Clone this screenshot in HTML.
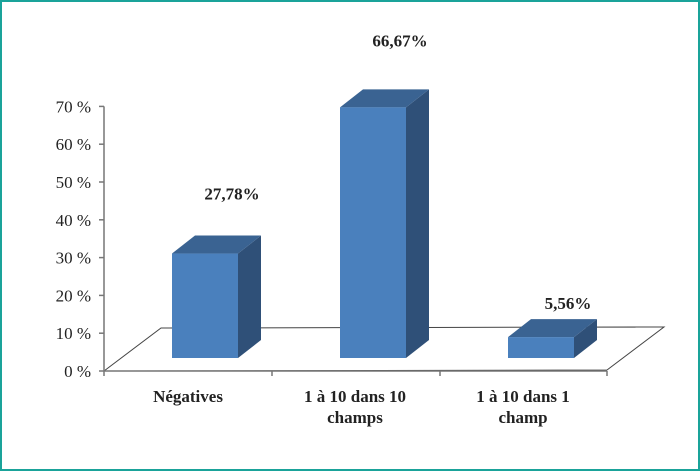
<!DOCTYPE html>
<html><head><meta charset="utf-8"><style>
html,body{margin:0;padding:0;background:#fff}
svg{display:block}
text{font-family:"Liberation Serif",serif}
</style></head><body>
<svg width="700" height="471" viewBox="0 0 700 471">
<rect x="1" y="1" width="698" height="469" fill="#fff" stroke="#1aa39a" stroke-width="2"/>
<g id="floor"></g>
<g id="yaxis"></g>
<g id="bars"></g>
<g id="xlabels"></g>
</svg>
<script>
const categories = [["Négatives"], ["1 à 10 dans 10", "champs"], ["1 à 10 dans 1", "champ"]];
const values = [27.78, 66.67, 5.56];
const valueLabels = ["27,78%", "66,67%", "5,56%"];
const yTicks = [0, 10, 20, 30, 40, 50, 60, 70];

const NS = "http://www.w3.org/2000/svg";
function mk(tag, attrs, parent) {
  const e = document.createElementNS(NS, tag);
  for (const k in attrs) e.setAttribute(k, attrs[k]);
  parent.appendChild(e);
  return e;
}
const axisX = 104, y0 = 371, pxPerPct = 37.8 / 10;
const yScale = v => y0 - v * pxPerPct;
const baseY = 358, barPx = 3.76;
const barH = v => v * barPx;
const catX = i => 172 + i * 168;
const barW = 66, dx = 23, dy = 18;

// floor
const floor = document.getElementById('floor');
const fp = mk('polygon', {points: `${axisX},${y0} 161,328 664,327 607,370`, fill: '#fff', stroke: '#444', 'stroke-width': 1}, floor);


const bl = mk('line', {x1: axisX, y1: y0, x2: 607, y2: y0, stroke: '#777', 'stroke-width': 1.5}, floor);


[axisX, 272, 440, 607].forEach(x => {
  const t = mk('line', {x1: x, y1: y0, x2: x, y2: y0 + 5, stroke: '#777', 'stroke-width': 1.5}, floor);
  
  
});

// y axis
const ya = document.getElementById('yaxis');
const al = mk('line', {x1: axisX, y1: yScale(70), x2: axisX, y2: y0, stroke: '#777', 'stroke-width': 1.5}, ya);


yTicks.forEach(v => {
  const y = yScale(v);
  const t = mk('line', {x1: axisX - 5, y1: y, x2: axisX, y2: y, stroke: '#777', 'stroke-width': 1.5}, ya);
  
  
  const tx = mk('text', {x: 91, y: y + 6, 'text-anchor': 'end', 'font-size': 17, fill: '#222'}, ya);
  tx.textContent = v + ' %';
  
  
});

// bars
const bars = document.getElementById('bars');
values.forEach((v, i) => {
  const x = catX(i), h = barH(v), top = baseY - h;
  const g = mk('g', {}, bars);
  
  
  mk('polygon', {points: `${x + barW},${top} ${x + barW + dx},${top - dy} ${x + barW + dx},${baseY - dy} ${x + barW},${baseY}`, fill: '#2f5078'}, g);
  mk('polygon', {points: `${x},${top} ${x + dx},${top - dy} ${x + barW + dx},${top - dy} ${x + barW},${top}`, fill: '#3a6392'}, g);
  mk('rect', {x: x, y: top, width: barW, height: h, fill: '#4a80bd'}, g);
  const lbl = mk('text', {x: x + barW / 2 + 27, y: [200, 57, 312][i] !== undefined ? top - dy - [36, 43, 10][i] : 0, 'text-anchor': 'middle', 'font-size': 17, 'font-weight': 'bold', fill: '#222'}, bars);
  lbl.textContent = valueLabels[i];
  
  
});

// x labels
const xl = document.getElementById('xlabels');
categories.forEach((lines, i) => {
  const cx = [188, 355, 523][i];
  lines.forEach((s, j) => {
    const t = mk('text', {x: cx, y: 402 + j * 21, 'text-anchor': 'middle', 'font-size': 17, 'font-weight': 'bold', fill: '#222', 'font-family': 'Liberation Sans, sans-serif'}, xl);
    t.textContent = s;
    
    
  });
});
</script>
</body></html>
